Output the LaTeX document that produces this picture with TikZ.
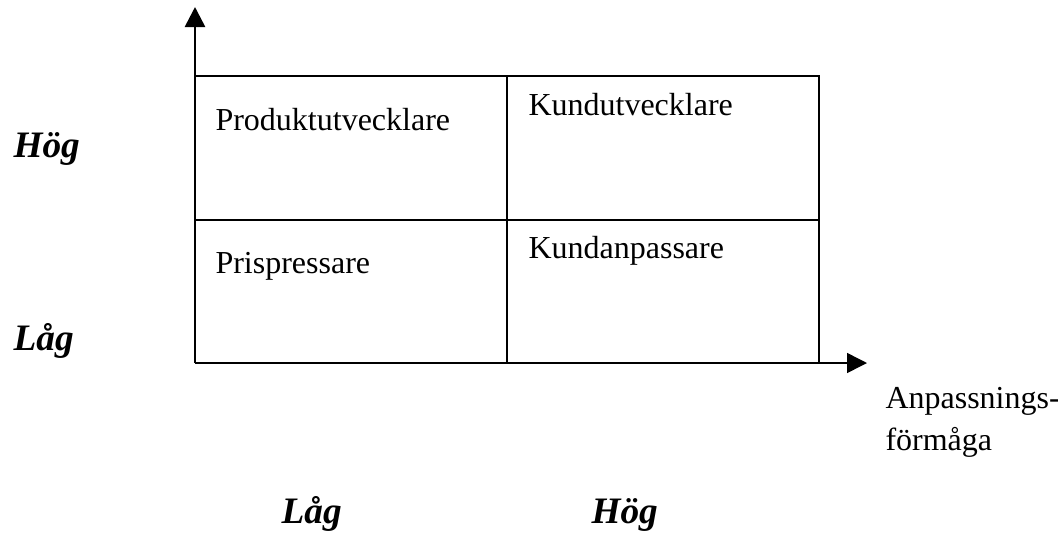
\documentclass[tikz,border=0pt]{standalone}
\usepackage{fontspec}
\setmainfont{Liberation Serif}
\usetikzlibrary{arrows.meta}

\begin{document}
\begin{tikzpicture}[x=0.375pt,y=-0.375pt,
    cell/.style={anchor=base west,inner sep=0pt,font=\fontsize{12}{14}\selectfont},
    level/.style={anchor=base west,inner sep=0pt,font=\fontsize{14}{17}\selectfont\bfseries\itshape},
    axis/.style={-{Triangle[length=7.5pt,width=7.5pt]},draw=black,line width=1pt},
    thinaxis/.style={-{Triangle[length=7.5pt,width=7.5pt]},draw=black,line width=0.55pt},
    gridline/.style={draw=black,line width=0.7pt}
  ]
  \useasboundingbox (0,0) rectangle (1058,533);

  % corners of the matrix
  \coordinate (origin) at (195,363);
  \coordinate (ytip) at (195,7);
  \coordinate (xtip) at (867,363);
  \coordinate (tl) at (195,76);
  \coordinate (tr) at (819,76);
  \coordinate (br) at (819,363);
  \coordinate (tm) at (507,76);
  \coordinate (bm) at (507,363);
  \coordinate (ml) at (195,220);
  \coordinate (mr) at (819,220);

  % axes
  \draw[thinaxis] (origin) -- (xtip);
  \draw[axis] (origin) -- (ytip);
  \draw[black,line width=1pt] (origin) -- (br);

  % quadrants
  \draw[gridline] (tl) -- (tr) -- (br);
  \draw[gridline] (tm) -- (bm);
  \draw[gridline] (ml) -- (mr);

  \node[cell] (produkt) at (215,130) {Produktutvecklare};
  \node[cell] (kundutv) at (528,115) {Kundutvecklare};
  \node[cell] (pris) at (215,273) {Prispressare};
  \node[cell] (kundanp) at (528,258) {Kundanpassare};

  % levels
  \node[level] (yhog) at (13,157) {Hög};
  \node[level] (ylag) at (13,350) {Låg};
  \node[level] (xlag) at (281,523) {Låg};
  \node[level] (xhog) at (591,523) {Hög};

  \node[cell] (anp) at (885,408) {Anpassnings-};
  \node[cell] (form) at (885,450) {förmåga};
\end{tikzpicture}
\end{document}
